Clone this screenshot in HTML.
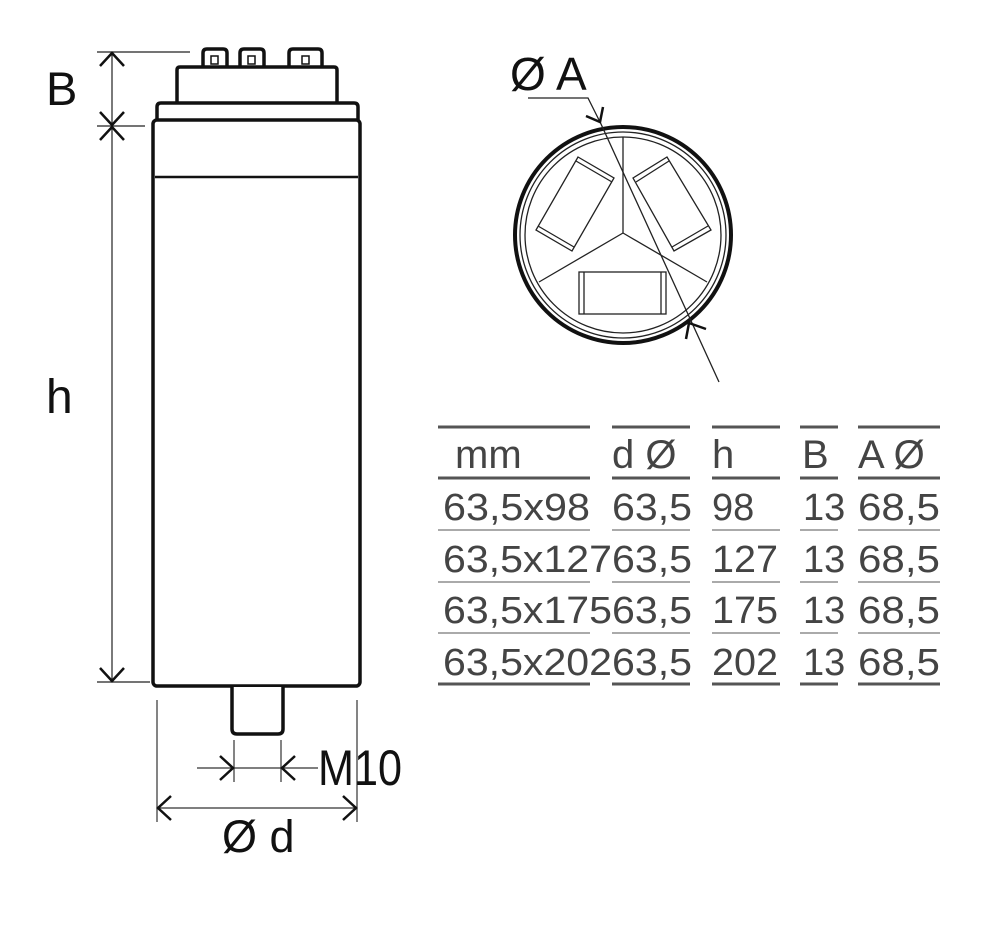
<!DOCTYPE html>
<html><head><meta charset="utf-8"><style>html,body{margin:0;padding:0;background:#fff}svg{display:block}</style></head>
<body>
<svg width="984" height="926" viewBox="0 0 984 926" xmlns="http://www.w3.org/2000/svg" font-family="Liberation Sans, Arial, sans-serif">
<rect width="984" height="926" fill="#fff"/>
<g stroke="#222" stroke-width="1.2" fill="none">
<line x1="97" y1="52" x2="190" y2="52"/>
<line x1="97" y1="126" x2="145" y2="126"/>
<line x1="97" y1="682" x2="150" y2="682"/>
<line x1="112" y1="52" x2="112" y2="682"/>
</g>
<g stroke="#111" stroke-width="2.5" fill="none">
<polyline points="100,66 112,53 124,66"/>
<polyline points="100,112 112,125 124,112"/>
<polyline points="100,140 112,127 124,140"/>
<polyline points="100,668 112,681 124,668"/>
</g>
<g stroke="#111" stroke-width="3.5" fill="#fff" stroke-linejoin="round">
<path d="M203,69 V53 Q203,49 207,49 H223 Q227,49 227,53 V69"/>
<path d="M240,69 V53 Q240,49 244,49 H260 Q264,49 264,53 V69"/>
<path d="M289,69 V53 Q289,49 293,49 H318 Q322,49 322,53 V69"/>
<path d="M177,104 V70 Q177,67 180,67 H334 Q337,67 337,70 V104"/>
<path d="M157,120 V107 Q157,103 161,103 H354 Q358,103 358,107 V120"/>
<rect x="153" y="120" width="207" height="566" rx="4"/>
<path d="M232,687 V729 Q232,734 237,734 H278 Q283,734 283,729 V687"/>
</g>
<g stroke="#111" stroke-width="1.5" fill="none">
<rect x="211" y="56" width="7" height="8"/><rect x="248" y="56" width="7" height="8"/><rect x="302" y="56" width="7" height="8"/>
</g>
<line x1="155" y1="177" x2="358" y2="177" stroke="#111" stroke-width="2.5"/>
<line x1="157" y1="120" x2="358" y2="120" stroke="#111" stroke-width="1.5"/>
<g stroke="#333" stroke-width="1.2" fill="none">
<line x1="157" y1="700" x2="157" y2="822"/>
<line x1="357" y1="700" x2="357" y2="822"/>
<line x1="234" y1="740" x2="234" y2="782"/>
<line x1="281" y1="740" x2="281" y2="782"/>
<line x1="197" y1="768" x2="318" y2="768"/>
<line x1="157" y1="808" x2="357" y2="808"/>
</g>
<g stroke="#111" stroke-width="2.5" fill="none">
<polyline points="220,756 233,768 220,780"/>
<polyline points="295,756 282,768 295,780"/>
<polyline points="171,796 158,808 171,820"/>
<polyline points="343,796 356,808 343,820"/>
</g>
<text x="46" y="105" font-size="47" fill="#111">B</text>
<text x="46" y="413" font-size="48" fill="#111">h</text>
<text x="318" y="785" font-size="50" fill="#111" textLength="84" lengthAdjust="spacingAndGlyphs">M10</text>
<text x="222" y="852" font-size="45" fill="#111">Ø d</text>
<circle cx="623" cy="235" r="108" fill="none" stroke="#111" stroke-width="4"/>
<g stroke="#222" stroke-width="1.3" fill="none">
<circle cx="623" cy="235" r="103"/>
<circle cx="623" cy="235" r="98"/>
<line x1="623" y1="233" x2="623" y2="137"/>
<line x1="623" y1="233" x2="539" y2="282"/>
<line x1="623" y1="233" x2="707" y2="282"/>
<polygon points="578,157 614,178 572,251 536,230"/>
<line x1="576" y1="161" x2="612" y2="182"/>
<line x1="538" y1="226" x2="574" y2="247"/>
<polygon points="633,178 667,157 711,230 674,251"/>
<line x1="636" y1="182" x2="669" y2="161"/>
<line x1="708" y1="226" x2="672" y2="247"/>
<rect x="579" y="272" width="87" height="42"/>
<line x1="584" y1="272" x2="584" y2="314"/>
<line x1="661" y1="272" x2="661" y2="314"/>
<polyline points="528,98 588,98 601,124 719,382"/>
</g>
<g stroke="#111" stroke-width="2.5" fill="none">
<polyline points="586,116 600,122 603,107"/>
<polyline points="686,339 689,323 706,329"/>
</g>
<text x="510" y="90" font-size="46" fill="#111">Ø A</text>
<g stroke="#555" fill="none">
<g stroke-width="3">
<line x1="438" y1="427" x2="590" y2="427"/><line x1="612" y1="427" x2="690" y2="427"/><line x1="712" y1="427" x2="780" y2="427"/><line x1="800" y1="427" x2="838" y2="427"/><line x1="858" y1="427" x2="940" y2="427"/>
<line x1="438" y1="478" x2="590" y2="478"/><line x1="612" y1="478" x2="690" y2="478"/><line x1="712" y1="478" x2="780" y2="478"/><line x1="800" y1="478" x2="838" y2="478"/><line x1="858" y1="478" x2="940" y2="478"/>
<line x1="438" y1="684" x2="590" y2="684"/><line x1="612" y1="684" x2="690" y2="684"/><line x1="712" y1="684" x2="780" y2="684"/><line x1="800" y1="684" x2="838" y2="684"/><line x1="858" y1="684" x2="940" y2="684"/>
</g>
<g stroke-width="1">
<line x1="438" y1="530" x2="590" y2="530"/><line x1="612" y1="530" x2="690" y2="530"/><line x1="712" y1="530" x2="780" y2="530"/><line x1="800" y1="530" x2="838" y2="530"/><line x1="858" y1="530" x2="940" y2="530"/>
<line x1="438" y1="582" x2="590" y2="582"/><line x1="612" y1="582" x2="690" y2="582"/><line x1="712" y1="582" x2="780" y2="582"/><line x1="800" y1="582" x2="838" y2="582"/><line x1="858" y1="582" x2="940" y2="582"/>
<line x1="438" y1="633" x2="590" y2="633"/><line x1="612" y1="633" x2="690" y2="633"/><line x1="712" y1="633" x2="780" y2="633"/><line x1="800" y1="633" x2="838" y2="633"/><line x1="858" y1="633" x2="940" y2="633"/>
</g>
</g>
<g fill="#444" font-size="40">
<text x="455" y="468">mm</text>
<text x="612" y="468">d Ø</text>
<text x="712" y="468">h</text>
<text x="802" y="468">B</text>
<text x="858" y="468">A Ø</text>
</g>
<g fill="#444" font-size="38">
<text x="443" y="520" textLength="147" lengthAdjust="spacingAndGlyphs">63,5x98</text>
<text x="443" y="572" textLength="169" lengthAdjust="spacingAndGlyphs">63,5x127</text>
<text x="443" y="623" textLength="169" lengthAdjust="spacingAndGlyphs">63,5x175</text>
<text x="443" y="675" textLength="169" lengthAdjust="spacingAndGlyphs">63,5x202</text>
<text x="612" y="520" textLength="80" lengthAdjust="spacingAndGlyphs">63,5</text>
<text x="612" y="572" textLength="80" lengthAdjust="spacingAndGlyphs">63,5</text>
<text x="612" y="623" textLength="80" lengthAdjust="spacingAndGlyphs">63,5</text>
<text x="612" y="675" textLength="80" lengthAdjust="spacingAndGlyphs">63,5</text>
<text x="712" y="520">98</text>
<text x="712" y="572" textLength="66" lengthAdjust="spacingAndGlyphs">127</text>
<text x="712" y="623" textLength="66" lengthAdjust="spacingAndGlyphs">175</text>
<text x="712" y="675" textLength="66" lengthAdjust="spacingAndGlyphs">202</text>
<text x="803" y="520">13</text><text x="803" y="572">13</text><text x="803" y="623">13</text><text x="803" y="675">13</text>
<text x="858" y="520" textLength="82" lengthAdjust="spacingAndGlyphs">68,5</text>
<text x="858" y="572" textLength="82" lengthAdjust="spacingAndGlyphs">68,5</text>
<text x="858" y="623" textLength="82" lengthAdjust="spacingAndGlyphs">68,5</text>
<text x="858" y="675" textLength="82" lengthAdjust="spacingAndGlyphs">68,5</text>
</g>
</svg>
</body></html>
